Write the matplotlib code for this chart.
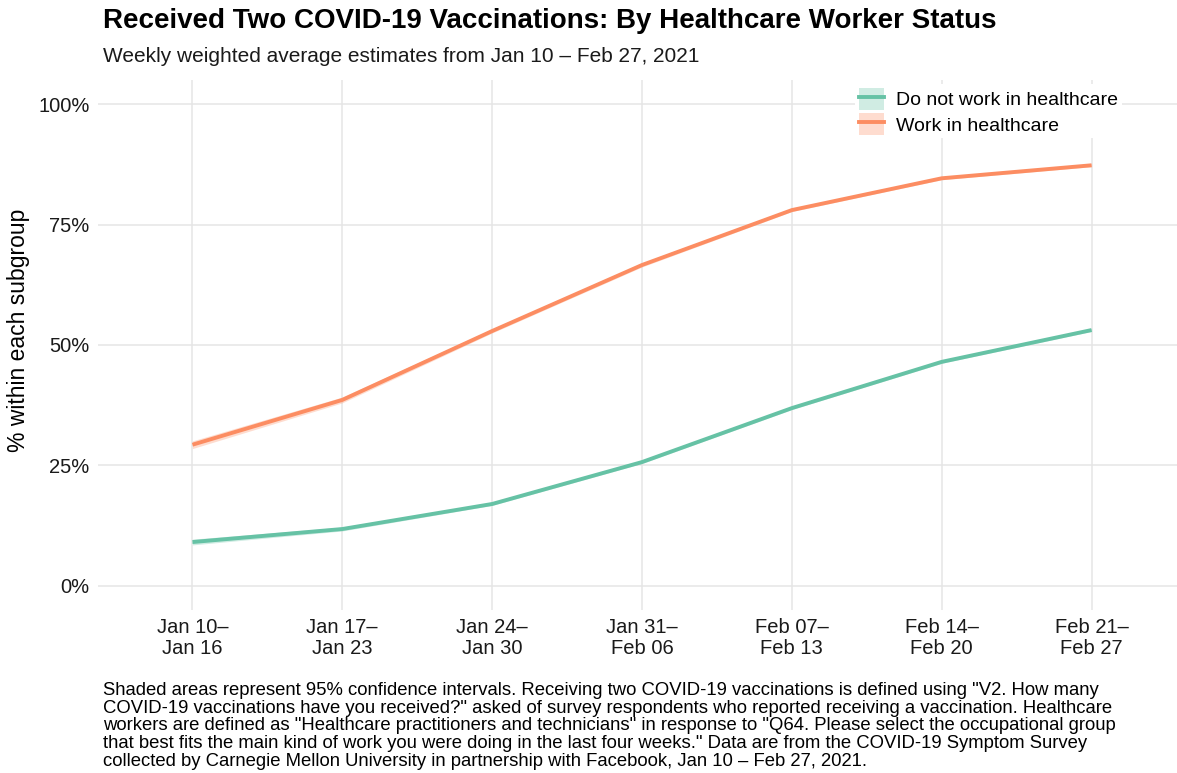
import numpy as np
import matplotlib.pyplot as plt
from matplotlib.patches import Patch
from matplotlib.lines import Line2D

plt.rcParams['font.family'] = ['Liberation Sans', 'DejaVu Sans']

# weekly periods
weeks = ["Jan 10–\nJan 16", "Jan 17–\nJan 23", "Jan 24–\nJan 30", "Jan 31–\nFeb 06",
         "Feb 07–\nFeb 13", "Feb 14–\nFeb 20", "Feb 21–\nFeb 27"]

# % received two doses
non_hcw = [9.1, 11.8, 17.0, 25.7, 36.9, 46.5, 53.1]
non_hcw_lo = [8.5, 11.4, 16.7, 25.4, 36.6, 46.2, 52.8]
non_hcw_hi = [9.7, 12.2, 17.3, 26.0, 37.2, 46.8, 53.4]

hcw = [29.3, 38.6, 52.9, 66.6, 78.0, 84.6, 87.3]
hcw_lo = [28.5, 38.0, 52.5, 66.2, 77.7, 84.3, 87.0]
hcw_hi = [30.1, 39.2, 53.3, 67.0, 78.3, 84.9, 87.6]

series_names = ["Do not work in healthcare", "Work in healthcare"]
colors = ["#66C2A5", "#FC8D62"]

caption = ('Shaded areas represent 95% confidence intervals. Receiving two COVID-19 vaccinations is defined using "V2. How many\n'
           'COVID-19 vaccinations have you received?" asked of survey respondents who reported receiving a vaccination. Healthcare\n'
           'workers are defined as "Healthcare practitioners and technicians" in response to "Q64. Please select the occupational group\n'
           'that best fits the main kind of work you were doing in the last four weeks." Data are from the COVID-19 Symptom Survey\n'
           'collected by Carnegie Mellon University in partnership with Facebook, Jan 10 – Feb 27, 2021.')

fig = plt.figure(figsize=(11.77, 7.73), dpi=100)
ax = fig.add_axes([0.0833, 0.2109, 0.9167, 0.6856])

x = np.arange(len(weeks))
for vals, lo, hi, name, col in [(non_hcw, non_hcw_lo, non_hcw_hi, series_names[0], colors[0]),
                                (hcw, hcw_lo, hcw_hi, series_names[1], colors[1])]:
    ax.fill_between(x, lo, hi, color=col, alpha=0.3, linewidth=0)
    ax.plot(x, vals, color=col, lw=2.8, label=name, solid_capstyle='butt')

ax.set_xlim(-0.63, 6.57)
ax.set_ylim(-5, 105)
ax.set_xticks(x)
ax.set_xticklabels(weeks, fontsize=14.5, color='#1a1a1a', linespacing=1.1)
ax.set_yticks([0, 25, 50, 75, 100])
ax.set_yticklabels(["0%", "25%", "50%", "75%", "100%"], fontsize=14.5, color='#1a1a1a')
ax.tick_params(length=0, pad=6)
ax.grid(True, color='#e5e5e5', lw=1.1)
ax.set_axisbelow(True)
for s in ax.spines.values():
    s.set_visible(False)
ax.set_ylabel("% within each subgroup", fontsize=16.5, va='center')
ax.yaxis.set_label_coords(-0.074, 0.527)

# legend keys with light box like ggplot
handles = [(Patch(facecolor=c, alpha=0.3, edgecolor='none'), Line2D([], [], color=c, lw=2.8)) for c in colors]
leg = ax.legend(handles, series_names, loc='upper right', bbox_to_anchor=(0.958, 1.01),
                frameon=True, fontsize=14, handlelength=1.3, handleheight=1.3,
                labelspacing=0.2, borderpad=0.2, handletextpad=0.6)
leg.get_frame().set_facecolor('white')
leg.get_frame().set_edgecolor('none')
leg.get_frame().set_alpha(1)

fig.text(0.0875, 0.973, "Received Two COVID-19 Vaccinations: By Healthcare Worker Status",
         fontsize=20, fontweight='bold', va='center', ha='left')
fig.text(0.0875, 0.927, "Weekly weighted average estimates from Jan 10 – Feb 27, 2021",
         fontsize=15, va='center', ha='left', color='#1a1a1a')
fig.text(0.0875, 1 - 682 / 773, caption, fontsize=13.3, va='top', ha='left', linespacing=1.05)

fig.savefig("out.png", dpi=100)
